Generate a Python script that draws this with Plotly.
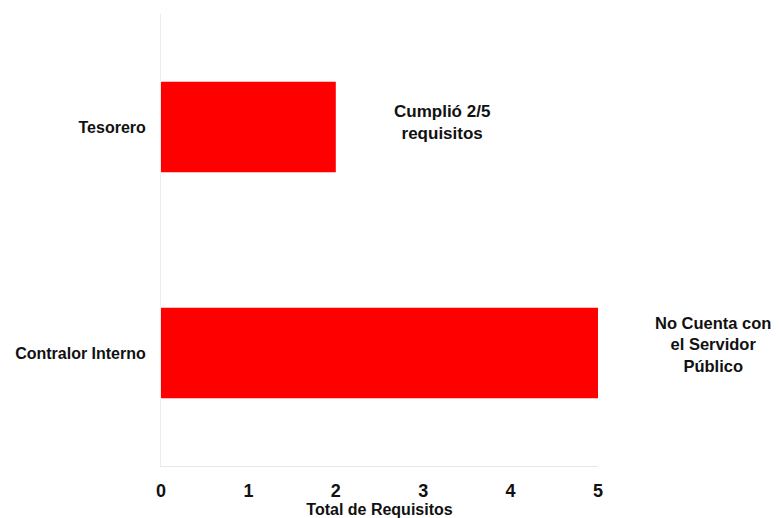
import plotly.graph_objects as go

categories = ["Contralor Interno", "Tesorero"]
values = [5, 2]
notes = ["No Cuenta con<br>el Servidor<br>Público", "Cumplió 2/5<br>requisitos"]
x_ticks = [0, 1, 2, 3, 4, 5]
x_max = 5

fig = go.Figure()
fig.add_trace(go.Bar(
    y=categories, x=values, orientation="h",
    marker=dict(color="#ff0000", line=dict(width=0)),
    width=0.4, hoverinfo="skip",
))

offsets = [1.32, 1.215]
shifts = [9, 5]
sizes = [16.5, 17]
for cat, v, note, off, sh, sz in zip(categories, values, notes, offsets, shifts, sizes):
    fig.add_annotation(
        x=(v + off) / x_max, y=cat, xref="paper", yref="y", text="<b>" + note + "</b>",
        showarrow=False, xanchor="center", yanchor="middle",
        font=dict(family="Liberation Sans, Arial", size=sz, color="#111111"),
        yshift=sh,
    )

fig.update_layout(
    width=771, height=510,
    margin=dict(l=153, r=181, t=6, b=52),
    plot_bgcolor="white", paper_bgcolor="white",
    showlegend=False,
    font=dict(family="Liberation Sans, Arial", color="#111111"),
)
fig.update_xaxes(
    range=[0, x_max], tickvals=x_ticks, ticktext=["<b>%d</b>" % t for t in x_ticks],
    tickfont=dict(size=18), showgrid=False, zeroline=False,
    showline=True, linecolor="#e6e6e6", linewidth=1,
    ticklabelstandoff=8,
    title=dict(text="<b>Total de Requisitos</b>", font=dict(size=16), standoff=0),
)
fig.update_yaxes(
    showgrid=False, zeroline=False, showline=True, linecolor="#ececec",
    tickfont=dict(size=16), ticklabelstandoff=11,
    tickvals=categories, ticktext=["<b>%s</b>" % c for c in categories],
)

fig.write_html("out.html")
